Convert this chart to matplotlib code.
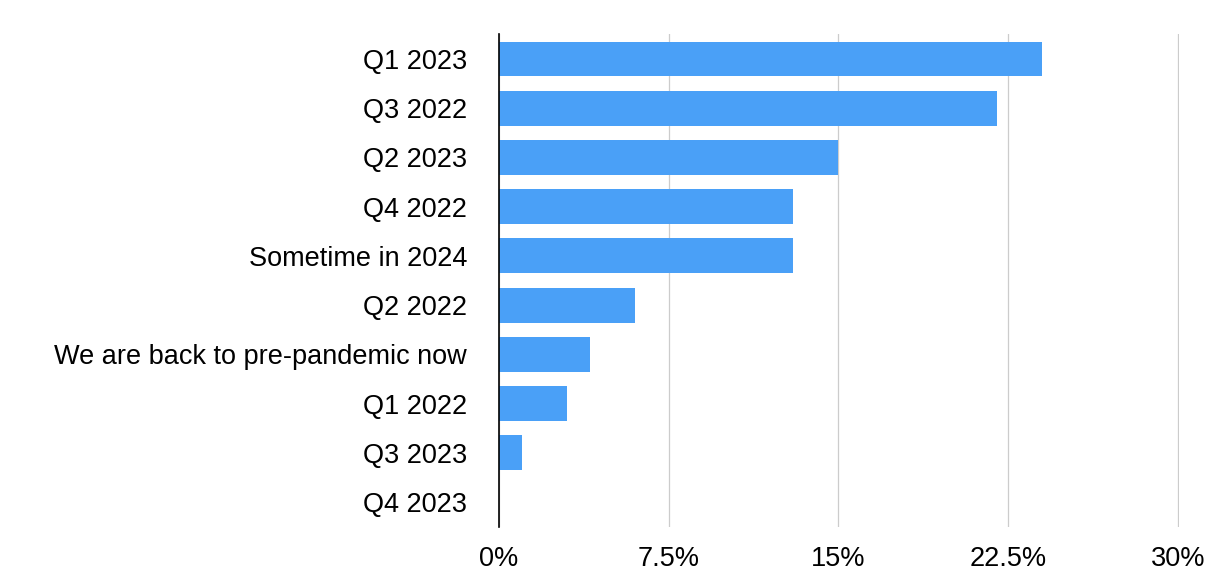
import matplotlib
matplotlib.use("Agg")
import matplotlib.pyplot as plt

categories = ["Q1 2023", "Q3 2022", "Q2 2023", "Q4 2022", "Sometime in 2024",
              "Q2 2022", "We are back to pre-pandemic now", "Q1 2022", "Q3 2023", "Q4 2023"]
values = [24, 22, 15, 13, 13, 6, 4, 3, 1, 0]
ticks = [0, 7.5, 15, 22.5, 30]
tick_labels = ["0%", "7.5%", "15%", "22.5%", "30%"]

plt.rcParams["font.family"] = "Liberation Sans"
fig = plt.figure(figsize=(12.1, 5.74), dpi=100)
ax = fig.add_axes([499/1210, 1-526.6/574, (1179-499)/1210, (526.6-34.4)/574])
y = list(range(len(categories)))
ax.barh(y, values, height=0.71, color="#4AA0F7", zorder=3)
ax.set_ylim(len(categories)-0.5, -0.5)
ax.set_xlim(0, 30.05)
ax.set_yticks(y)
ax.set_yticklabels(categories, fontsize=19.5)
ax.set_xticks(ticks)
ax.set_xticklabels(tick_labels, fontsize=19.5)
ax.grid(axis="x", color="#cccccc", linewidth=0.9, zorder=0)
for s in ["top", "right", "bottom"]:
    ax.spines[s].set_visible(False)
ax.spines["left"].set_color("black")
ax.spines["left"].set_linewidth(1.2)
ax.spines["left"].set_zorder(4)
ax.tick_params(axis="y", length=0, pad=23)
ax.tick_params(axis="x", length=0, pad=14)
fig.savefig("out.png", dpi=100)
